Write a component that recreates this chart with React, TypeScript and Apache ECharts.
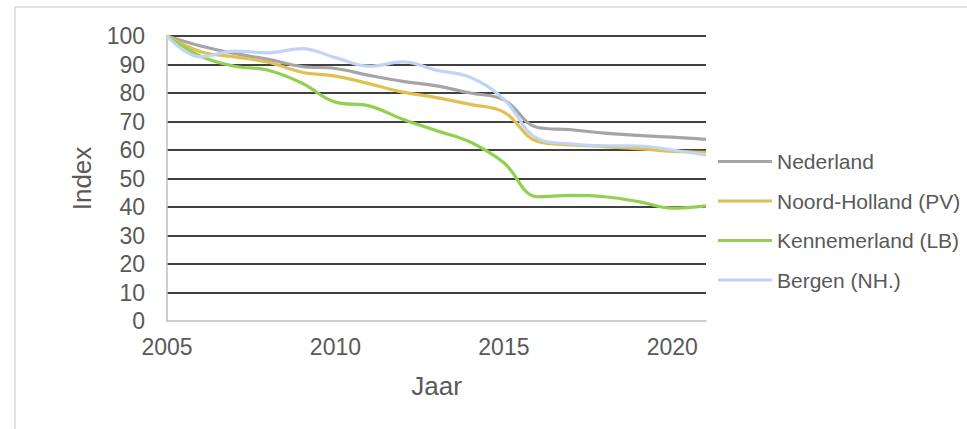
import React, { useEffect, useRef } from "react";
import * as echarts from "echarts";

const years = [2005, 2006, 2007, 2008, 2009, 2010, 2011, 2012, 2013, 2014, 2015, 2016, 2017, 2018, 2019, 2020, 2021];
const nederland = [100, 96.5, 93.9, 91.8, 89.3, 88.6, 86.2, 84.1, 82.5, 80, 77.6, 67.9, 67.1, 65.9, 65.1, 64.5, 63.7];
const noordHolland = [100, 94.5, 92.7, 90.8, 87.3, 85.9, 83.3, 80.3, 78.4, 76, 73.3, 63, 61.8, 61.2, 60.5, 59.5, 59.2];
const kennemerland = [100, 92.9, 89.4, 88, 83.5, 76.8, 75.5, 70.8, 66.8, 62.8, 55.5, 43.6, 44.1, 43.6, 41.9, 39.6, 40.4];
const bergen = [100, 92.7, 94.7, 94.1, 95.6, 92.4, 89.4, 90.9, 88, 85.5, 77.8, 64, 62.1, 61.5, 61.4, 60, 58.3];

const seriesNames = ["Nederland", "Noord-Holland (PV)", "Kennemerland (LB)", "Bergen (NH.)"];
const seriesValues = [nederland, noordHolland, kennemerland, bergen];
const seriesColors = ["#A5A5A5", "#E0C050", "#92D050", "#C2D4F5"];

const FONT = "'Liberation Sans', Arial, sans-serif";
const TEXT = "#595959";

export default function App() {
  const ref = useRef<HTMLDivElement>(null);
  useEffect(() => {
    if (!ref.current) return;
    const chart = echarts.init(ref.current, undefined, { renderer: "svg" });
    chart.setOption({
      animation: false,
      backgroundColor: "#fff",
      textStyle: { fontFamily: FONT },
      graphic: [
        {
          type: "rect",
          shape: { x: 15, y: 7, width: 1000, height: 500 },
          style: { fill: "none", stroke: "#D9D9D9", lineWidth: 1.5 },
          silent: true,
        },
      ],
      grid: { left: 167, right: 261, top: 36, bottom: 108 },
      legend: {
        orient: "vertical",
        left: 718,
        top: 151,
        padding: 0,
        itemWidth: 54,
        itemHeight: 3,
        itemGap: 18.5,
        icon: "rect",
        textStyle: { color: TEXT, fontSize: 21, fontFamily: FONT },
        data: seriesNames,
      },
      xAxis: {
        type: "value",
        min: 2005,
        max: 2021,
        interval: 5,
        name: "Jaar",
        nameLocation: "middle",
        nameGap: 52,
        nameTextStyle: { color: TEXT, fontSize: 26, fontFamily: FONT },
        axisLine: { show: true, lineStyle: { color: "#BFBFBF", width: 1.5 } },
        axisTick: { show: false },
        splitLine: { show: false },
        axisLabel: {
          color: TEXT,
          fontSize: 23,
          fontFamily: FONT,
          margin: 14,
          showMaxLabel: false,
          formatter: (v: number) => String(v),
        },
      },
      yAxis: {
        type: "value",
        min: 0,
        max: 100,
        interval: 10,
        name: "Index",
        nameLocation: "middle",
        nameGap: 72,
        nameTextStyle: { color: TEXT, fontSize: 26, fontFamily: FONT },
        axisLine: { show: true, lineStyle: { color: "#BFBFBF", width: 1.5 } },
        axisTick: { show: false },
        axisLabel: { color: TEXT, fontSize: 23, fontFamily: FONT, margin: 22 },
        splitLine: { show: true, showMinLine: false, lineStyle: { color: "#000", width: 1.5 } },
      },
      series: seriesNames.map((name, i) => ({
        name,
        type: "line",
        data: years.map((y, j) => [y, seriesValues[i][j]]),
        smooth: 0.4,
        symbol: "none",
        showSymbol: false,
        color: seriesColors[i],
        lineStyle: { color: seriesColors[i], width: 3.2 },
        z: 10 + i,
      })),
    });
    return () => chart.dispose();
  }, []);
  return <div ref={ref} style={{ position: "fixed", left: 0, top: 0, width: 967, height: 429 }} />;
}
